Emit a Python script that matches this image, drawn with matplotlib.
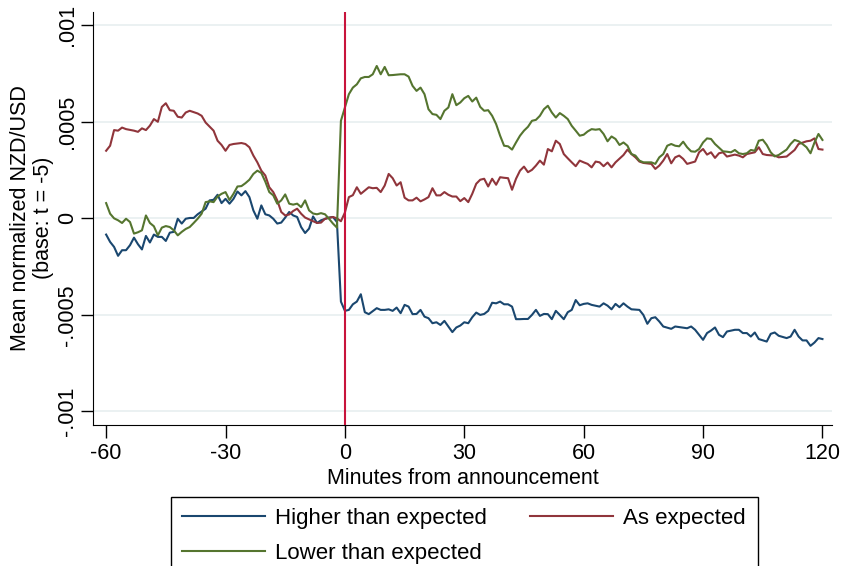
import matplotlib
matplotlib.use('Agg')
import matplotlib.pyplot as plt
import matplotlib.patches as mpatches
import numpy as np

# values in units of 1e-4, (minute, mean normalized NZD/USD)
higher = [
    (-60, -0.84), (-59, -1.22), (-58, -1.48), (-57, -1.94), (-56, -1.65), (-55, -1.65),
    (-54, -1.39), (-53, -1.0), (-52, -1.34), (-51, -1.61), (-50, -0.91), (-49, -1.25),
    (-48, -0.84), (-47, -0.96), (-46, -0.96), (-45, -1.17), (-44, -0.74), (-43, -0.7),
    (-42, -0.02), (-41, -0.27), (-40, -0.02), (-39, 0.02), (-38, 0.02), (-37, 0.21),
    (-35, 0.5), (-34, 0.93), (-33, 0.96), (-32, 1.22), (-31, 0.79), (-30, 1.01),
    (-29, 0.76), (-28, 1.01), (-27, 1.39), (-26, 1.19), (-25, 1.41), (-24, 1.1),
    (-23, 0.41), (-22, -0.02), (-21, 0.67), (-20, 0.21), (-19, 0.15), (-18, -0.02),
    (-17, -0.27), (-16, -0.22), (-15, 0.04), (-14, 0.33), (-13, 0.15), (-12, 0.07),
    (-11, -0.45), (-10, -0.76), (-9, -0.53), (-8, 0.1), (-7, -0.24), (-6, -0.1),
    (-4, 0.04), (-3, 0.07), (-2, -0.19), (-1, -4.31), (0, -4.79), (1, -4.74),
    (2, -4.45), (3, -4.31), (4, -3.93), (5, -4.86), (6, -4.96), (8, -4.65),
    (9, -4.74), (10, -4.74), (11, -4.71), (12, -4.79), (13, -4.62), (14, -4.91),
    (15, -4.48), (16, -4.57), (17, -4.96), (18, -4.95), (19, -4.74), (20, -5.09),
    (21, -5.17), (22, -5.43), (23, -5.38), (24, -5.52), (25, -5.31), (26, -5.6),
    (27, -5.89), (28, -5.65), (29, -5.55), (30, -5.38), (31, -5.43), (32, -5.12),
    (33, -4.88), (34, -5.0), (35, -4.95), (36, -4.79), (37, -4.37), (38, -4.4),
    (39, -4.31), (40, -4.45), (41, -4.45), (42, -4.57), (43, -5.22), (44, -5.22),
    (45, -5.21), (46, -5.21), (47, -5.0), (48, -4.74), (49, -5.05), (50, -4.95),
    (51, -4.96), (52, -5.22), (53, -4.79), (54, -5.0), (55, -5.22), (56, -4.86),
    (57, -4.74), (58, -4.23), (59, -4.5), (60, -4.43), (61, -4.4), (62, -4.48),
    (64, -4.57), (65, -4.4), (66, -4.52), (67, -4.71), (68, -4.43), (69, -4.6),
    (70, -4.4), (71, -4.57), (72, -4.71), (74, -4.74), (75, -5.0), (76, -5.46),
    (77, -5.17), (78, -5.12), (79, -5.34), (80, -5.6), (82, -5.72), (83, -5.6),
    (84, -5.63), (86, -5.69), (87, -5.6), (88, -5.77), (90, -6.29), (91, -5.94),
    (92, -5.81), (93, -5.65), (94, -6.03), (95, -6.15), (96, -5.86), (98, -5.77),
    (99, -5.77), (100, -5.94), (101, -5.94), (102, -6.12), (103, -5.91), (104, -6.25),
    (106, -6.38), (107, -5.98), (108, -5.91), (109, -6.08), (111, -6.2), (112, -6.12),
    (113, -5.77), (114, -6.12), (115, -6.32), (116, -6.32), (117, -6.6), (118, -6.43),
    (119, -6.2), (120, -6.25),
]

as_expected = [
    (-60, 3.5), (-59, 3.76), (-58, 4.57), (-57, 4.54), (-56, 4.7), (-55, 4.62),
    (-54, 4.58), (-53, 4.54), (-52, 4.48), (-51, 4.66), (-50, 4.57), (-49, 4.8),
    (-48, 5.14), (-47, 5.0), (-46, 5.77), (-45, 5.96), (-44, 5.6), (-43, 5.57),
    (-42, 5.26), (-41, 5.22), (-40, 5.48), (-39, 5.57), (-37, 5.43), (-36, 5.31),
    (-35, 4.96), (-34, 4.75), (-33, 4.54), (-32, 4.02), (-31, 3.8), (-30, 3.5),
    (-29, 3.8), (-28, 3.85), (-26, 3.9), (-25, 3.85), (-24, 3.68), (-23, 3.25),
    (-22, 2.9), (-21, 2.47), (-20, 2.22), (-19, 1.61), (-18, 1.36), (-17, 0.93),
    (-16, 0.33), (-15, 0.15), (-14, 0.2), (-13, 0.38), (-12, 0.5), (-11, 0.24),
    (-10, 0.04), (-8, -0.15), (-7, -0.24), (-6, -0.22), (-5, -0.02), (-3, 0.07),
    (-2, 0.0), (-1, -0.15), (0, 0.3), (1, 1.1), (2, 1.2), (3, 1.61),
    (4, 1.27), (5, 1.44), (6, 1.61), (7, 1.56), (8, 1.58), (9, 1.36),
    (10, 1.7), (11, 2.3), (12, 2.08), (13, 1.7), (14, 1.87), (15, 1.07),
    (16, 0.93), (17, 0.93), (18, 1.07), (19, 0.88), (20, 0.98), (21, 1.1),
    (22, 1.56), (23, 1.19), (24, 1.19), (25, 1.36), (26, 1.22), (27, 1.13),
    (28, 1.13), (29, 0.89), (30, 1.05), (31, 0.84), (32, 1.27), (33, 1.79),
    (34, 2.0), (35, 2.05), (36, 1.65), (37, 2.05), (38, 1.74), (39, 2.13),
    (40, 2.1), (41, 2.08), (42, 1.48), (43, 2.05), (44, 2.47), (45, 2.68),
    (46, 2.39), (47, 2.51), (48, 2.73), (49, 2.99), (50, 2.78), (51, 3.59),
    (52, 3.47), (53, 4.02), (54, 3.85), (55, 3.33), (56, 3.11), (57, 2.9),
    (58, 2.7), (59, 2.99), (60, 2.9), (61, 2.82), (62, 2.64), (63, 2.94),
    (64, 2.9), (65, 2.7), (66, 2.89), (67, 2.64), (68, 2.9), (70, 3.28),
    (71, 3.56), (72, 3.33), (73, 3.16), (74, 2.94), (75, 2.87), (77, 2.82),
    (78, 2.56), (79, 2.73), (80, 2.99), (81, 3.33), (82, 2.85), (83, 3.16),
    (84, 3.25), (85, 3.08), (86, 2.82), (88, 2.94), (89, 3.42), (90, 3.59),
    (91, 3.3), (92, 3.42), (93, 3.13), (94, 3.37), (95, 3.42), (96, 3.2),
    (98, 3.3), (99, 3.25), (100, 3.16), (101, 3.33), (103, 3.42), (104, 3.68),
    (105, 3.33), (106, 3.28), (108, 3.25), (109, 3.16), (111, 3.2), (112, 3.37),
    (113, 3.54), (114, 3.85), (116, 3.99), (117, 4.02), (118, 4.14), (119, 3.59),
    (120, 3.56),
]

lower = [
    (-60, 0.79), (-59, 0.24), (-58, 0.0), (-57, -0.1), (-56, -0.24), (-55, -0.02),
    (-54, -0.19), (-53, -0.79), (-52, -0.72), (-51, -0.62), (-50, 0.15), (-49, -0.24),
    (-48, -0.41), (-47, -0.88), (-46, -0.48), (-45, -0.4), (-44, -0.45), (-43, -0.62),
    (-42, -0.88), (-41, -0.7), (-40, -0.55), (-39, -0.45), (-38, -0.24), (-37, -0.02),
    (-36, 0.24), (-35, 0.84), (-34, 0.88), (-33, 0.84), (-32, 1.13), (-31, 1.27),
    (-30, 1.36), (-29, 0.95), (-28, 1.27), (-27, 1.65), (-26, 1.67), (-25, 1.82),
    (-24, 2.0), (-23, 2.3), (-22, 2.47), (-21, 2.35), (-20, 1.9), (-19, 1.36),
    (-18, 1.19), (-17, 0.76), (-16, 0.93), (-15, 1.24), (-14, 0.76), (-13, 0.71),
    (-12, 0.76), (-11, 0.58), (-10, 0.93), (-9, 0.41), (-8, 0.25), (-7, 0.21),
    (-6, 0.27), (-5, 0.21), (-4, -0.02), (-3, -0.27), (-2, -0.48), (-1, 5.05),
    (0, 5.74), (1, 6.43), (2, 6.77), (3, 6.94), (4, 7.25), (5, 7.32),
    (6, 7.32), (7, 7.46), (8, 7.89), (9, 7.46), (10, 7.84), (11, 7.41),
    (12, 7.42), (13, 7.44), (14, 7.46), (15, 7.46), (16, 7.34), (17, 6.86),
    (18, 6.6), (19, 6.77), (20, 6.43), (21, 5.65), (22, 5.4), (23, 5.36),
    (24, 5.14), (25, 5.57), (26, 5.74), (27, 6.43), (28, 5.86), (29, 6.0),
    (30, 6.22), (31, 6.34), (32, 6.05), (33, 6.25), (34, 5.77), (35, 5.57),
    (36, 5.6), (37, 5.31), (38, 4.88), (39, 4.28), (40, 3.76), (41, 3.73),
    (42, 3.56), (43, 3.93), (44, 4.28), (45, 4.54), (46, 4.74), (47, 5.05),
    (48, 5.1), (49, 5.31), (50, 5.65), (51, 5.83), (52, 5.48), (53, 5.22),
    (54, 5.45), (55, 5.31), (56, 5.14), (57, 4.79), (58, 4.54), (59, 4.28),
    (60, 4.33), (61, 4.5), (62, 4.62), (63, 4.59), (64, 4.62), (65, 4.37),
    (66, 3.99), (67, 4.24), (68, 4.11), (69, 3.8), (70, 3.93), (71, 3.76),
    (72, 3.33), (73, 3.25), (74, 2.99), (75, 2.9), (77, 2.9), (78, 2.82),
    (79, 3.16), (80, 3.33), (81, 3.76), (82, 3.85), (83, 3.76), (84, 3.73),
    (85, 3.97), (86, 3.68), (87, 3.47), (88, 3.45), (89, 3.59), (90, 3.93),
    (91, 4.14), (92, 4.11), (93, 3.85), (95, 3.47), (96, 3.45), (97, 3.42),
    (98, 3.54), (99, 3.37), (100, 3.33), (101, 3.37), (102, 3.54), (103, 3.5),
    (104, 4.02), (105, 4.07), (106, 3.8), (107, 3.42), (108, 3.21), (109, 3.28),
    (110, 3.42), (111, 3.56), (112, 3.85), (113, 4.06), (114, 3.99), (115, 3.85),
    (116, 3.68), (117, 3.37), (118, 3.93), (119, 4.37), (120, 4.06),
]

xticks = [-60, -30, 0, 30, 60, 90, 120]
xtick_labels = ['-60', '-30', '0', '30', '60', '90', '120']
yticks = [-0.001, -0.0005, 0, 0.0005, 0.001]
ytick_labels = ['-.001', '-.0005', '0', '.0005', '.001']

series_names = ['Higher than expected', 'As expected', 'Lower than expected']
colors = ['#1a476f', '#90353b', '#55752f']

plt.rcParams['font.family'] = ['Liberation Sans', 'DejaVu Sans']

W, H = 842, 566
fs = 15.5
fig = plt.figure(figsize=(W / 100, H / 100), dpi=100)
ax = fig.add_axes([93 / W, 1 - 425 / H, (832 - 93) / W, (425 - 11.7) / H])

lines = []
for pts, name, col in zip([higher, as_expected, lower], series_names, colors):
    x, y = np.array(pts).T
    ln, = ax.plot(x, y * 1e-4, color=col, lw=1.5, zorder=3, label=name)
    lines.append(ln)

ax.axvline(0, color='#c8143c', lw=1.5, zorder=4)

ax.set_xlim(-63.3, 122.4)
ax.set_ylim(-0.00107, 0.00107)
ax.set_xticks(xticks)
ax.set_xticklabels(xtick_labels)
ax.set_yticks(yticks)
ax.set_yticklabels(ytick_labels, rotation=90, va='center')
ax.tick_params(direction='out', length=9, width=1, labelsize=fs)
ax.tick_params(axis='x', pad=4)
ax.tick_params(axis='y', pad=2)
ax.grid(axis='y', color='#e8eff0', lw=1.2)
ax.set_axisbelow(True)
for s in ['top', 'right']:
    ax.spines[s].set_visible(False)

ax.set_xlabel('Minutes from announcement', fontsize=fs, labelpad=3)
fig.text(32 / W, 1 - 218 / H, 'Mean normalized NZD/USD\n(base: t = -5)', rotation=90,
         ha='center', va='center', multialignment='center', fontsize=fs, linespacing=1.15)

# legend: column-major order so "As expected" sits in the 2nd column
leg = fig.legend([lines[0], lines[2], lines[1]],
                 [series_names[0], series_names[2], series_names[1]],
                 ncol=2, loc='upper left', bbox_to_anchor=(171 / W, 1 - 497 / H),
                 frameon=False, fontsize=16, handlelength=3.75, handletextpad=0.45,
                 columnspacing=1.9, labelspacing=0.62, borderpad=0.5, borderaxespad=0)
box = mpatches.Rectangle((171 / W, -0.1), (758 - 171) / W, 0.1 + 1 - 497 / H,
                         transform=fig.transFigure, fill=False, ec='black', lw=1)
fig.patches.append(box)

fig.savefig('out.png', dpi=100)
